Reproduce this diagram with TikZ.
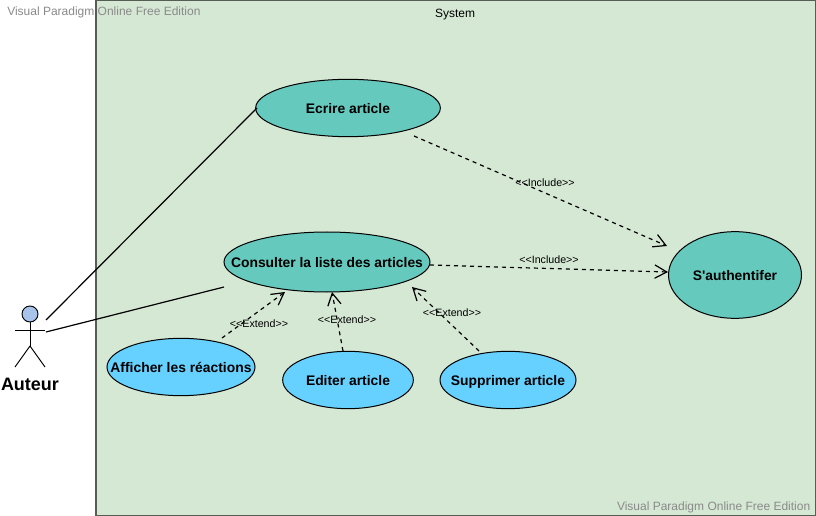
\documentclass[tikz,border=0pt]{standalone}
\usepackage{fontspec}
\setmainfont{Liberation Sans}[Ligatures=TeXOff]
\usetikzlibrary{arrows.meta,shapes.geometric}
\definecolor{sysfill}{HTML}{D5E8D4}
\definecolor{teal}{HTML}{66C9BE}
\definecolor{sky}{HTML}{66D1FF}
\definecolor{actorblue}{HTML}{A9C4EB}
\definecolor{wm}{HTML}{8A8A8A}
\newcommand{\uctext}[1]{\raisebox{-4.2pt}[0pt][0pt]{\makebox[0pt]{#1}}}
\tikzset{
 x=0.75pt,y=-0.75pt,
 uc/.style={draw=black,line width=0.75pt,ellipse,inner sep=0pt,font=\bfseries\fontsize{10.4}{12}\selectfont},
 main/.style={uc,fill=teal},
 sub/.style={uc,fill=sky},
 dep/.style={dashed,dash pattern=on 3pt off 3pt,line width=0.9pt,-{Straight Barb[length=9pt,width=10pt,line width=0.9pt]}},
 assoc/.style={line width=0.9pt},
 lbl/.style={inner sep=0pt,font=\fontsize{8}{9}\selectfont},
 wmark/.style={inner sep=0pt,text=wm,font=\fontsize{9}{11}\selectfont},
 stick/.style={line width=0.7pt},
}
\begin{document}
\begin{tikzpicture}
\useasboundingbox (0,0) rectangle (816,516);
\fill[white] (0,0) rectangle (816,516);
\draw[fill=sysfill,draw=black!60!sysfill,line width=1pt] (96,0) rectangle (816,515.5);
\node[inner sep=0pt,font=\fontsize{9}{11}\selectfont] (sys) at (455,15) {System};
\node[wmark,anchor=west] (w1) at (7,12) {Visual Paradigm Online Free Edition};
\node[wmark,anchor=east] (w2) at (810.5,507) {Visual Paradigm Online Free Edition};

\node[main,minimum width=138.5pt,minimum height=43pt] (ecrire) at (348,108) {\uctext{Ecrire article}};
\node[main,minimum width=154.5pt,minimum height=45pt] (liste) at (327,262) {\uctext{Consulter la liste des articles}};
\node[main,minimum width=99.75pt,minimum height=65pt] (auth) at (735,275) {\uctext{S'authentifer}};
\node[sub,minimum width=111pt,minimum height=43pt] (aff) at (181,367) {\uctext{Afficher les réactions}};
\node[sub,minimum width=98pt,minimum height=43pt] (edit) at (348,380) {\uctext{Editer article}};
\node[sub,minimum width=102pt,minimum height=43pt] (supp) at (508,380) {\uctext{Supprimer article}};

% actor
\coordinate (neck) at (30,322);
\coordinate (hip) at (30,346);
\draw[stick,fill=actorblue] (30,314) circle (6pt);
\draw[stick] (neck) -- (hip);
\draw[stick] (15,330) -- (45,330);
\draw[stick] (hip) -- (15,367);
\draw[stick] (hip) -- (45,367);
\node[inner sep=0pt,font=\bfseries\fontsize{13.5}{16}\selectfont] (auteur) at (30,384) {Auteur};

\coordinate (a1) at (46,320);
\coordinate (a2) at (46,332);
\coordinate (e1) at (257,108);
\coordinate (e2) at (224,287);
\draw[assoc] (a1) -- (e1);
\draw[assoc] (a2) -- (e2);

\coordinate (i1s) at (414,136);
\coordinate (i1e) at (667,246);
\coordinate (i2s) at (430,265);
\coordinate (i2e) at (668,272);
\coordinate (x1s) at (222,338);
\coordinate (x1e) at (285,292);
\coordinate (x2s) at (343,351);
\coordinate (x2e) at (332,292);
\coordinate (x3s) at (479,351);
\coordinate (x3e) at (412,287);
\draw[dep] (i1s) -- (i1e);
\draw[dep] (i2s) -- (i2e);
\draw[dep] (x1s) -- (x1e);
\draw[dep] (x2s) -- (x2e);
\draw[dep] (x3s) -- (x3e);

\node[lbl] (l1) at (545,182.5) {<<Include>>};
\node[lbl] (l2) at (549,259.5) {<<Include>>};
\node[lbl] (l3) at (259,323.5) {<<Extend>>};
\node[lbl] (l4) at (347,319.5) {<<Extend>>};
\node[lbl] (l5) at (452,312.5) {<<Extend>>};
\end{tikzpicture}
\end{document}
